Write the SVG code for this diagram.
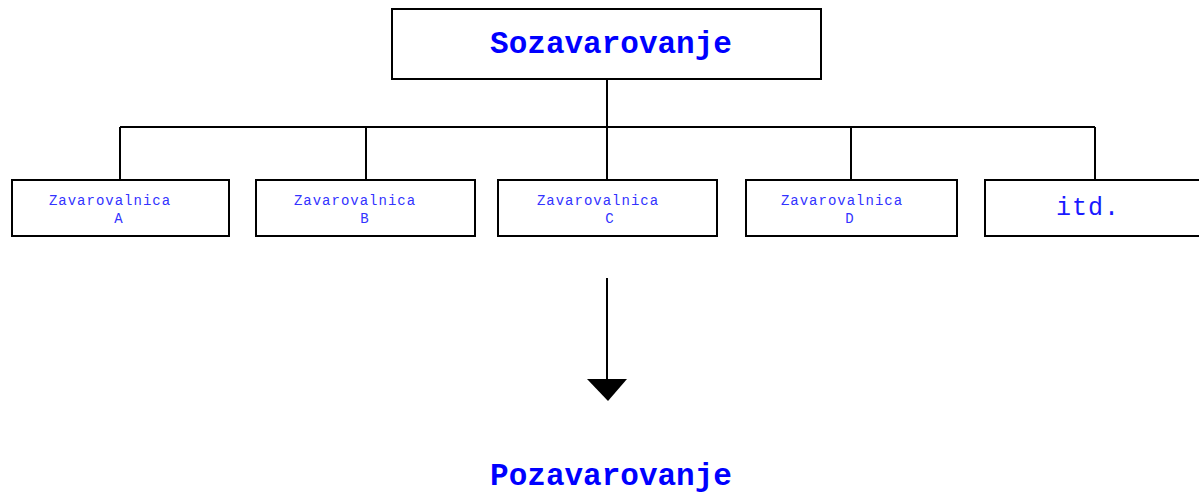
<svg xmlns="http://www.w3.org/2000/svg" width="1199" height="494" viewBox="0 0 1199 494">
  <style>
    .box { fill: #ffffff; stroke: #000000; stroke-width: 2; }
    .wire { fill: none; stroke: #000000; stroke-width: 2; }
    .title { font-family: "Liberation Mono", "Courier New", monospace; font-weight: bold; font-size: 31px; fill: #0000ff; text-anchor: middle; }
    .small { font-family: "Liberation Mono", "Courier New", monospace; font-size: 14px; fill: #3333ff; text-anchor: middle; letter-spacing: 1px; }
    .mid { font-family: "Liberation Mono", "Courier New", monospace; font-size: 25px; fill: #1a1aff; text-anchor: middle; letter-spacing: 1px; }
  </style>
  <rect width="1199" height="494" fill="#ffffff"/>

  <!-- connectors -->
  <g id="connectors">
    <path class="wire" d="M607 79 V127 M120 127 H1095 M120 127 V180 M366 127 V180 M607 127 V180 M851 127 V180 M1095 127 V180"/>
    <path class="wire" d="M607 278 V381"/>
    <polygon points="587,379 627,379 608,401" fill="#000000"/>
  </g>

  <g id="sozavarovanje">
    <rect class="box" x="392" y="9" width="429" height="70"/>
    <text class="title" x="611" y="53">Sozavarovanje</text>
  </g>

  <g id="zavarovalnica-a">
    <rect class="box" x="12" y="180" width="217" height="56"/>
    <text class="small" x="110" y="205">Zavarovalnica</text>
    <text class="small" x="119" y="223">A</text>
  </g>

  <g id="zavarovalnica-b">
    <rect class="box" x="256" y="180" width="219" height="56"/>
    <text class="small" x="355" y="205">Zavarovalnica</text>
    <text class="small" x="365" y="223">B</text>
  </g>

  <g id="zavarovalnica-c">
    <rect class="box" x="498" y="180" width="219" height="56"/>
    <text class="small" x="598" y="205">Zavarovalnica</text>
    <text class="small" x="610" y="223">C</text>
  </g>

  <g id="zavarovalnica-d">
    <rect class="box" x="746" y="180" width="211" height="56"/>
    <text class="small" x="842" y="205">Zavarovalnica</text>
    <text class="small" x="850" y="223">D</text>
  </g>

  <g id="itd">
    <rect class="box" x="985" y="180" width="230" height="56"/>
    <text class="mid" x="1088" y="215">itd.</text>
  </g>

  <g id="pozavarovanje">
    <text class="title" x="611" y="485">Pozavarovanje</text>
  </g>
</svg>
